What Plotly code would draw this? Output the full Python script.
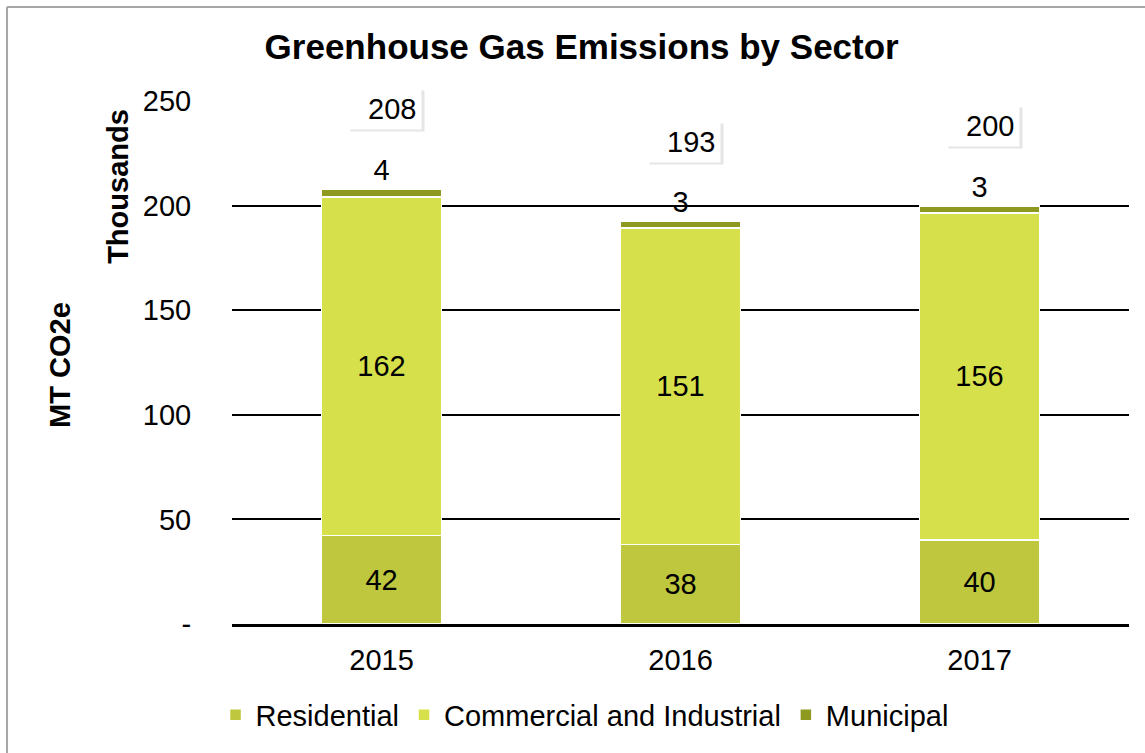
import plotly.graph_objects as go

years = ["2015", "2016", "2017"]
residential = [42.2, 37.9, 40.2]
commercial = [161.9, 151.4, 156.3]
municipal = [3.7, 3.4, 3.2]
totals = [208, 193, 200]
total_label_y = [246.4, 230.4, 238.0]
tick_vals = [0, 50, 100, 150, 200, 250]
tick_text = ["-", "50", "100", "150", "200", "250"]

FONT = "Liberation Sans, Arial, sans-serif"
FS = 29
c_res = "#BEC73D"
c_com = "#D6E04A"
c_mun = "#8D991F"

fig = go.Figure()
fig.add_trace(go.Bar(name="Residential", x=years, y=residential, marker=dict(color=c_res, line=dict(color="white", width=1.5)),
                     texttemplate="%{y:.0f}", textposition="inside", insidetextanchor="middle", textangle=0,
                     textfont=dict(size=FS, color="black", family=FONT)))
fig.add_trace(go.Bar(name="Commercial and Industrial", x=years, y=commercial, marker=dict(color=c_com, line=dict(color="white", width=1.5)),
                     texttemplate="%{y:.0f}", textposition="inside", insidetextanchor="middle", textangle=0,
                     textfont=dict(size=FS, color="black", family=FONT)))
fig.add_trace(go.Bar(name="Municipal", x=years, y=municipal, marker=dict(color=c_mun, line=dict(color="white", width=1.5)),
                     texttemplate="%{y:.0f}", textposition="outside", cliponaxis=False, textangle=0,
                     textfont=dict(size=FS, color="black", family=FONT)))

for i, (t, ly) in enumerate(zip(totals, total_label_y)):
    # soft shadow
    fig.add_annotation(x=i, y=ly, text=f"  {t}", showarrow=False, xshift=6, yshift=-2,
                       font=dict(size=FS, color="rgba(0,0,0,0)", family=FONT),
                       bgcolor="rgba(0,0,0,0.10)", borderpad=4)
    fig.add_annotation(x=i, y=ly, text=f"  {t}", showarrow=False, xshift=3,
                       font=dict(size=FS, color="black", family=FONT),
                       bgcolor="white", borderpad=4)

fig.add_annotation(xref="paper", yref="paper", x=-0.127, y=0.836, text="<b>Thousands</b>", textangle=-90,
                   xanchor="center", yanchor="middle",
                   showarrow=False, font=dict(size=FS, color="black", family=FONT))
fig.add_annotation(xref="paper", yref="paper", x=-0.192, y=0.495, text="<b>MT CO2e</b>", textangle=-90,
                   xanchor="center", yanchor="middle",
                   showarrow=False, font=dict(size=FS, color="black", family=FONT))

# chart border (left and top)
fig.add_shape(type="line", xref="paper", yref="paper", x0=-0.2508, x1=-0.2508, y0=-0.5, y1=1.1797,
              line=dict(color="#A6A6A6", width=2))
fig.add_shape(type="line", xref="paper", yref="paper", x0=-0.2508, x1=1.5, y0=1.1797, y1=1.1797,
              line=dict(color="#A6A6A6", width=2))

fig.update_layout(
    barmode="stack",
    bargap=0.6,
    width=1145, height=753,
    margin=dict(l=232, r=16, t=101, b=129, autoexpand=False),
    paper_bgcolor="white", plot_bgcolor="white",
    font=dict(family=FONT, size=FS, color="black"),
    title=dict(text="<b>Greenhouse Gas Emissions by Sector</b>", x=0.508, xanchor="center", y=0.9376, yanchor="middle",
               font=dict(size=35, color="black", family=FONT)),
    legend=dict(orientation="h", x=0.393, xanchor="center", y=-0.174, yanchor="middle",
                font=dict(size=FS, color="black", family=FONT), traceorder="normal", itemwidth=30),
    showlegend=True,
)
fig.update_yaxes(range=[0, 250], tickvals=tick_vals, ticktext=tick_text, showgrid=True, gridcolor="black", gridwidth=1.5,
                 zeroline=False, showline=False, ticks="outside", ticklen=34, tickcolor="rgba(0,0,0,0)",
                 tickfont=dict(size=FS, color="black", family=FONT), automargin=False)
fig.update_xaxes(type="category", categoryorder="array", categoryarray=years, range=[-0.5, 2.5], tickangle=0,
                 showline=True, linecolor="black", linewidth=2.5, ticks="outside", ticklen=8, automargin=False,
                 tickcolor="rgba(0,0,0,0)", tickfont=dict(size=FS, color="black", family=FONT))

fig.write_html("out.html", post_script="document.body.style.margin='0';",
               config={"displayModeBar": False})
